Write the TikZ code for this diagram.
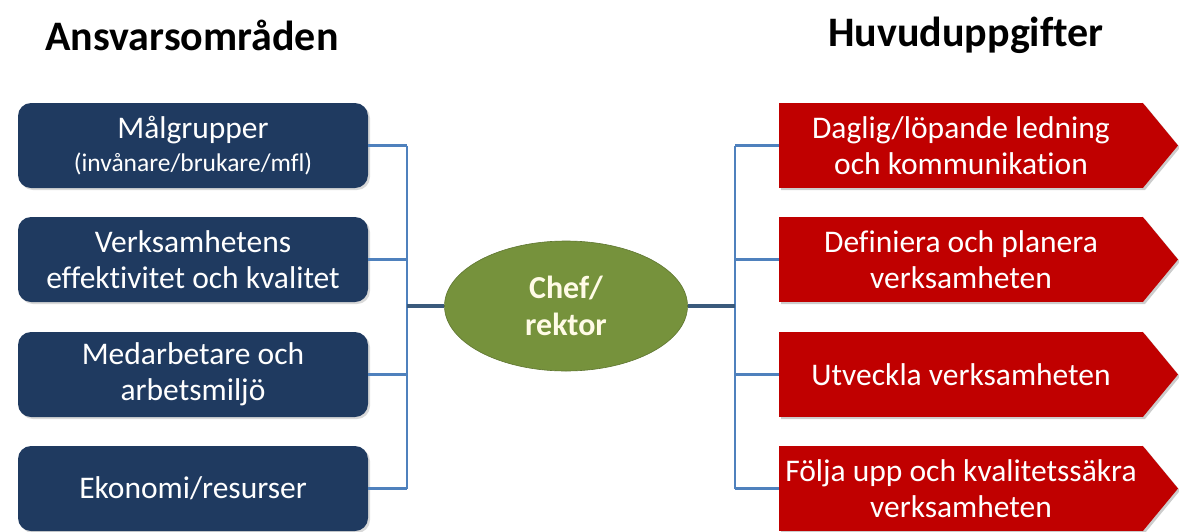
\documentclass[tikz,border=0pt]{standalone}
\usepackage{fontspec}
\setmainfont{Carlito}[Ligatures=NoCommon]
\usetikzlibrary{shadows,shapes.geometric}
\definecolor{navy}{HTML}{1F3A60}
\definecolor{redbox}{HTML}{C00000}
\definecolor{olive}{HTML}{76923C}
\definecolor{linkblue}{HTML}{4F81BD}
\definecolor{hub}{HTML}{3A5A7C}
\definecolor{cream}{HTML}{FFFBE6}
\tikzset{
  title/.style={font=\fontsize{42}{48}\selectfont\bfseries, text=black, inner sep=0pt},
  leftbox/.style={fill=navy, rounded corners=13pt, minimum width=350pt, minimum height=85pt,
    inner sep=0pt, text=white, align=center, font=\fontsize{31.5}{36}\selectfont,
    drop shadow={opacity=0.3, shadow xshift=2pt, shadow yshift=-2pt}},
  rightbox/.style={fill=redbox, minimum width=364pt, minimum height=85pt,
    inner sep=0pt, text=white, align=center, font=\fontsize{31.5}{36}\selectfont},
  chevtip/.style={fill=redbox},
  chevshadow/.style={fill=black, opacity=0.2},
  hubnode/.style={ellipse, fill=olive, draw=olive!80!black, line width=0.6pt,
    minimum width=243pt, minimum height=130pt, inner sep=0pt, text=cream, align=center,
    font=\fontsize{32}{37}\selectfont\bfseries},
  conn/.style={draw=linkblue, line width=2.6pt},
  hubconn/.style={draw=hub, line width=4pt}
}
\begin{document}
\begin{tikzpicture}[x=1pt,y=-1pt]
\useasboundingbox (0,0) rectangle (1179,531);
\node[title] (tl) at (192,35) {Ansvarsområden};
\node[title] (tr) at (966,35) {Huvuduppgifter};

% left boxes
\node[leftbox] (l1) at (193,145.5) {Målgrupper\\[-3pt]{\fontsize{25.5}{28}\selectfont (invånare/brukare/mfl)}};
\node[leftbox] (l2) at (193,259.5) {Verksamhetens\\effektivitet och kvalitet};
\node[leftbox] (l3) at (193,374.5) {Medarbetare och\\arbetsmiljö};
\node[leftbox] (l4) at (193,488.5) {Ekonomi/resurser};

% hub
\node[hubnode] (hub) at (566,306) {Chef/\\rektor};

% right chevrons
\coordinate (tipx) at (1178,0);
\foreach \n/\y in {1/145.5,2/259.5,3/374.5,4/488.5}{
  \coordinate (s\n) at (961,\y);
  \fill[chevshadow] ([shift={(2,2)}]s\n) ++(-182,-42.5) -- ++(364,0) -- ++(35,42.5) -- ++(-35,42.5) -- ++(-364,0) -- cycle;
}
\node[rightbox] (r1) at (961,145.5) {Daglig/löpande ledning\\och kommunikation};
\node[rightbox] (r2) at (961,259.5) {Definiera och planera\\verksamheten};
\node[rightbox] (r3) at (961,374.5) {Utveckla verksamheten};
\node[rightbox] (r4) at (961,488.5) {Följa upp och kvalitetssäkra\\verksamheten};
\foreach \n in {r1,r2,r3,r4}{
  \fill[chevtip] ([xshift=-0.5pt]\n.north east) -- (\n.east -| tipx) -- ([xshift=-0.5pt]\n.south east) -- cycle;
}

% connectors left
\coordinate (busL) at (407,0);
\foreach \n in {l1,l2,l3,l4}{
  \draw[conn] (\n.east) -- (\n.east -| busL);
}
\draw[conn] (l1.east -| busL) -- (l4.east -| busL);
\draw[hubconn] (hub.west) -- (hub.west -| busL);

% connectors right
\coordinate (busR) at (735,0);
\foreach \n in {r1,r2,r3,r4}{
  \draw[conn] (\n.west) -- (\n.west -| busR);
}
\draw[conn] (r1.west -| busR) -- (r4.west -| busR);
\draw[hubconn] (hub.east) -- (hub.east -| busR);
\end{tikzpicture}
\end{document}
